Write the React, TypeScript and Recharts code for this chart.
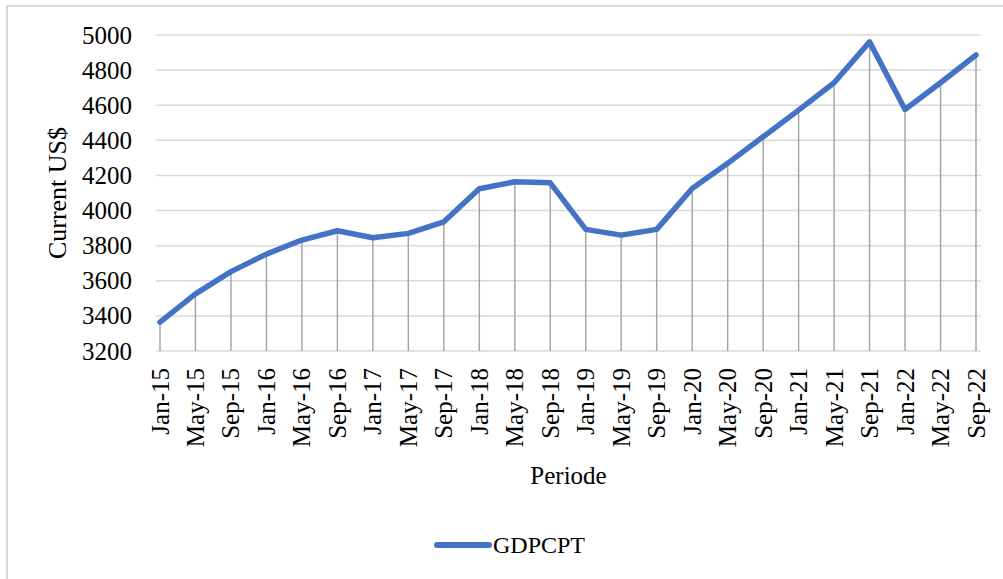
import React from 'react';
import { LineChart, Line, XAxis, YAxis, CartesianGrid, ErrorBar, Legend, Label } from 'recharts';

const categories = [
  'Jan-15', 'May-15', 'Sep-15', 'Jan-16', 'May-16', 'Sep-16', 'Jan-17', 'May-17',
  'Sep-17', 'Jan-18', 'May-18', 'Sep-18', 'Jan-19', 'May-19', 'Sep-19', 'Jan-20',
  'May-20', 'Sep-20', 'Jan-21', 'May-21', 'Sep-21', 'Jan-22', 'May-22', 'Sep-22',
];
const gdpcpt = [
  3365, 3525, 3652, 3752, 3832, 3885, 3845, 3870,
  3936, 4124, 4164, 4158, 3893, 3860, 3893, 4126,
  4269, 4420, 4572, 4728, 4961, 4576, 4728, 4886,
];
const yTicks = [3200, 3400, 3600, 3800, 4000, 4200, 4400, 4600, 4800, 5000];
const Y_MIN = 3200;
const Y_MAX = 5000;

const data = categories.map((c, i) => ({
  period: c,
  GDPCPT: gdpcpt[i],
  drop: [gdpcpt[i] - Y_MIN, 0],
}));

const FONT = "'Liberation Serif', 'Times New Roman', Times, serif";
const BLUE = '#4472C4';

const XTick = (props: any) => {
  const { x, y, payload } = props;
  return (
    <text
      x={x}
      y={y}
      transform={`rotate(-90, ${x}, ${y})`}
      textAnchor="end"
      dy="0.34em"
      fontSize={25}
      fontFamily={FONT}
      style={{ fontFamily: FONT }}
      fill="#000"
    >
      {payload.value}
    </text>
  );
};

const YTick = (props: any) => {
  const { x, y, payload } = props;
  return (
    <text
      x={x}
      y={y}
      textAnchor="end"
      dy="0.34em"
      fontSize={25}
      fontFamily={FONT}
      style={{ fontFamily: FONT }}
      fill="#000"
    >
      {payload.value}
    </text>
  );
};

const YLabel = (props: any) => {
  const vb = props.viewBox || {};
  const cx = 57;
  const cy = (vb.y || 0) + (vb.height || 0) / 2;
  return (
    <text
      x={cx}
      y={cy}
      transform={`rotate(-90, ${cx}, ${cy})`}
      textAnchor="middle"
      dy="0.34em"
      fontSize={26}
      fontFamily={FONT}
      style={{ fontFamily: FONT }}
      fill="#000"
    >
      Current US$
    </text>
  );
};

const LegendContent = () => (
  <div style={{ display: 'flex', alignItems: 'center', height: 30 }}>
    <svg width={58} height={10}>
      <line x1={3} y1={5} x2={55} y2={5} stroke={BLUE} strokeWidth={6} strokeLinecap="round" />
    </svg>
    <span style={{ fontFamily: FONT, fontSize: 24, color: '#000', marginLeft: 1 }}>GDPCPT</span>
  </div>
);

export default function App() {
  return (
    <div
      style={{
        position: 'absolute',
        left: 0,
        top: 0,
        width: 1003,
        height: 579,
        overflow: 'hidden',
        background: '#fff',
        fontFamily: FONT,
      }}
    >
      <div
        style={{
          position: 'absolute',
          left: 6,
          top: 5,
          width: 1100,
          height: 700,
          borderLeft: '2px solid #d9d9d9',
          borderTop: '2px solid #d9d9d9',
        }}
      />
      <div style={{ position: 'absolute', left: 0, top: 0 }}>
        <LineChart
          width={1003}
          height={579}
          data={data}
          margin={{ top: 35, right: 22, bottom: 88, left: 0 }}
          style={{ fontFamily: FONT }}
        >
          <CartesianGrid vertical={false} stroke="#d9d9d9" strokeWidth={1.5} />
          <XAxis
            dataKey="period"
            type="category"
            interval={0}
            padding={{ left: 4, right: 5 }}
            axisLine={false}
            tickLine={false}
            tickSize={0}
            tickMargin={17}
            height={140}
            tick={<XTick />}
          >
            <Label
              value="Periode"
              position="insideTop"
              offset={115}
              style={{ fontFamily: FONT, fontSize: 25, fill: '#000' }}
            />
          </XAxis>
          <YAxis
            type="number"
            domain={[Y_MIN, Y_MAX]}
            ticks={yTicks}
            interval={0}
            width={156}
            axisLine={false}
            tickLine={false}
            tickSize={0}
            tickMargin={24}
            allowDataOverflow
            tick={<YTick />}
          >
            <Label content={<YLabel />} />
          </YAxis>
          <Legend
            verticalAlign="middle"
            align="center"
            layout="horizontal"
            wrapperStyle={{ left: 434, top: 530, width: 220, height: 30 }}
            content={<LegendContent />}
          />
          <Line
            type="linear"
            dataKey="GDPCPT"
            stroke={BLUE}
            strokeWidth={5.5}
            strokeLinecap="round"
            strokeLinejoin="round"
            dot={false}
            activeDot={false}
            isAnimationActive={false}
          >
            <ErrorBar dataKey="drop" direction="y" width={0} stroke="#a6a6a6" strokeWidth={1.5} isAnimationActive={false} />
          </Line>
        </LineChart>
      </div>
    </div>
  );
}
